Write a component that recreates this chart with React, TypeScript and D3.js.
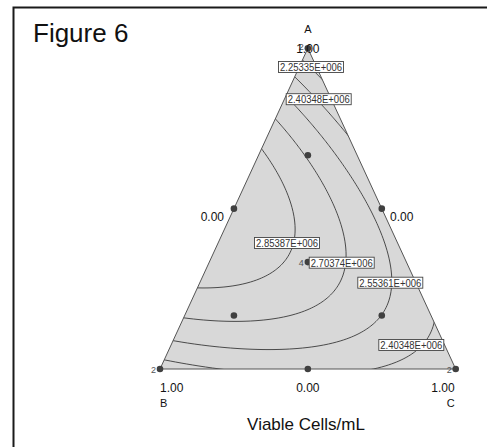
import React from 'react';
import * as d3 from 'd3';

const W = 487;
const H = 447;

// Scheffé special-cubic model coefficients (estimated from the contours)
const modelTerms = ['A', 'B', 'C', 'AB', 'AC', 'BC', 'ABC'];
const modelCoefs = [2.14e6, 2.324e6, 2.283e6, 3.05e6, 1.136e6, 0.543e6, 0.8e6];

// Contour levels shown
const contourLevels = [2.25335e6, 2.40348e6, 2.55361e6, 2.70374e6, 2.85387e6];

// Design points (mixture proportions) and replicate counts
const pointA = [1, 0, 0, 0.5, 0.5, 0, 2 / 3, 1 / 6, 1 / 6, 1 / 3];
const pointB = [0, 1, 0, 0.5, 0, 0.5, 1 / 6, 2 / 3, 1 / 6, 1 / 3];
const pointC = [0, 0, 1, 0, 0.5, 0.5, 1 / 6, 1 / 6, 2 / 3, 1 / 3];
const pointReps = [2, 2, 2, 1, 1, 1, 1, 1, 1, 4];

const componentNames = ['A', 'B', 'C'];
const tickHigh = '1.00';
const tickLow = '0.00';
const title = 'Figure 6';
const responseName = 'Viable Cells/mL';

// label placement (layout): [levelIndex, x, y]
const labelLayout: [number, number, number][] = [
  [0, 311, 67],
  [1, 318.7, 99.2],
  [4, 287, 243],
  [3, 341.7, 262.7],
  [2, 390.3, 282.7],
  [1, 411.3, 345],
];

function model(a: number, b: number, c: number) {
  const k = modelCoefs;
  return (
    k[0] * a + k[1] * b + k[2] * c + k[3] * a * b + k[4] * a * c + k[5] * b * c + k[6] * a * b * c
  );
}

function fmt(v: number) {
  const s = v.toExponential(5);
  const [m, e] = s.split('e');
  const sign = e[0] === '-' ? '-' : '+';
  const ex = Math.abs(parseInt(e, 10)).toString().padStart(3, '0');
  return `${m}E${sign}${ex}`;
}

export default function App() {
  const yA = d3.scaleLinear().domain([0, 1]).range([369, 48.3]);
  const xD = d3.scaleLinear().domain([-1, 1]).range([160, 455.7]);
  const toXY = (a: number, b: number, c: number): [number, number] => [xD(c - b), yA(a)];

  const vA = toXY(1, 0, 0);
  const vB = toXY(0, 1, 0);
  const vC = toXY(0, 0, 1);
  const triPath = `M${vA[0]},${vA[1]}L${vB[0]},${vB[1]}L${vC[0]},${vC[1]}Z`;

  const x0 = 150, x1 = 466, y0 = 38, y1 = 380, step = 1;
  const nx = Math.round((x1 - x0) / step) + 1;
  const ny = Math.round((y1 - y0) / step) + 1;
  const values = new Array(nx * ny);
  for (let j = 0; j < ny; j++) {
    const py = y0 + j * step;
    const a = yA.invert(py);
    for (let i = 0; i < nx; i++) {
      const px = x0 + i * step;
      const d = xD.invert(px);
      const c = (1 - a + d) / 2;
      const b = (1 - a - d) / 2;
      values[i + j * nx] = model(a, b, c);
    }
  }
  const contours = d3.contours().size([nx, ny]).thresholds(contourLevels)(values);
  const path = d3.geoPath(
    d3.geoTransform({
      point(x: number, y: number) {
        (this as any).stream.point(x0 + (x - 0.5) * step, y0 + (y - 0.5) * step);
      },
    })
  );

  const font = "Arial, 'Liberation Sans', sans-serif";

  return (
    <svg
      width={W}
      height={H}
      style={{ position: 'absolute', left: 0, top: 0 }}
      fontFamily={font}
    >
      <rect width={W} height={H} fill="#fff" />
      <path d={`M13.5,${H}V7.5H${W}`} fill="none" stroke="#1a1a1a" strokeWidth={2} />
      <text x={33} y={42} fontSize={26} fill="#111">{title}</text>

      <defs>
        <clipPath id="tri">
          <path d={triPath} />
        </clipPath>
      </defs>
      <path d={triPath} fill="#d8d8d8" />
      <g clipPath="url(#tri)">
        {contours.map((c, i) => (
          <path key={i} d={path(c as any) || ''} fill="none" stroke="#3a3a3a" strokeWidth={0.9} />
        ))}
      </g>
      <path d={triPath} fill="none" stroke="#555" strokeWidth={1} />

      {pointA.map((a, i) => {
        const [x, y] = toXY(a, pointB[i], pointC[i]);
        return <circle key={i} cx={x} cy={y} r={3.3} fill="#404040" />;
      })}
      {pointA.map((a, i) => {
        if (pointReps[i] <= 1) return null;
        const [x, y] = toXY(a, pointB[i], pointC[i]);
        return (
          <text key={'r' + i} x={x - 4} y={y + (a === 1 ? 2 : 3.5)} fontSize={9} fill="#555" textAnchor="end">
            {pointReps[i]}
          </text>
        );
      })}

      {labelLayout.map(([li, x, y], i) => (
        <g key={'l' + i}>
          <rect x={x - 32.5} y={y - 5.5} width={65} height={11} fill="#fff" stroke="#444" strokeWidth={0.9} />
          <text
            x={x}
            y={y + 3.8}
            fontSize={10}
            fill="#333"
            textAnchor="middle"
            textLength={62}
            lengthAdjust="spacingAndGlyphs"
          >
            {fmt(contourLevels[li])}
          </text>
        </g>
      ))}

      <text x={vA[0]} y={33} fontSize={11} textAnchor="middle" fill="#111">{componentNames[0]}</text>
      <text x={vA[0]} y={52.5} fontSize={12} textAnchor="middle" fill="#111">{tickHigh}</text>
      <text x={224} y={221} fontSize={12} textAnchor="end" fill="#111">{tickLow}</text>
      <text x={390} y={221} fontSize={12} textAnchor="start" fill="#111">{tickLow}</text>
      <text x={vB[0]} y={392} fontSize={12} textAnchor="start" fill="#111">{tickHigh}</text>
      <text x={vB[0]} y={407} fontSize={11} textAnchor="start" fill="#111">{componentNames[1]}</text>
      <text x={(vB[0] + vC[0]) / 2} y={392} fontSize={12} textAnchor="middle" fill="#111">{tickLow}</text>
      <text x={vC[0] - 1} y={392} fontSize={12} textAnchor="end" fill="#111">{tickHigh}</text>
      <text x={vC[0] - 1} y={407} fontSize={11} textAnchor="end" fill="#111">{componentNames[2]}</text>
      <text x={306} y={430} fontSize={17} textAnchor="middle" fill="#111">{responseName}</text>
    </svg>
  );
}
